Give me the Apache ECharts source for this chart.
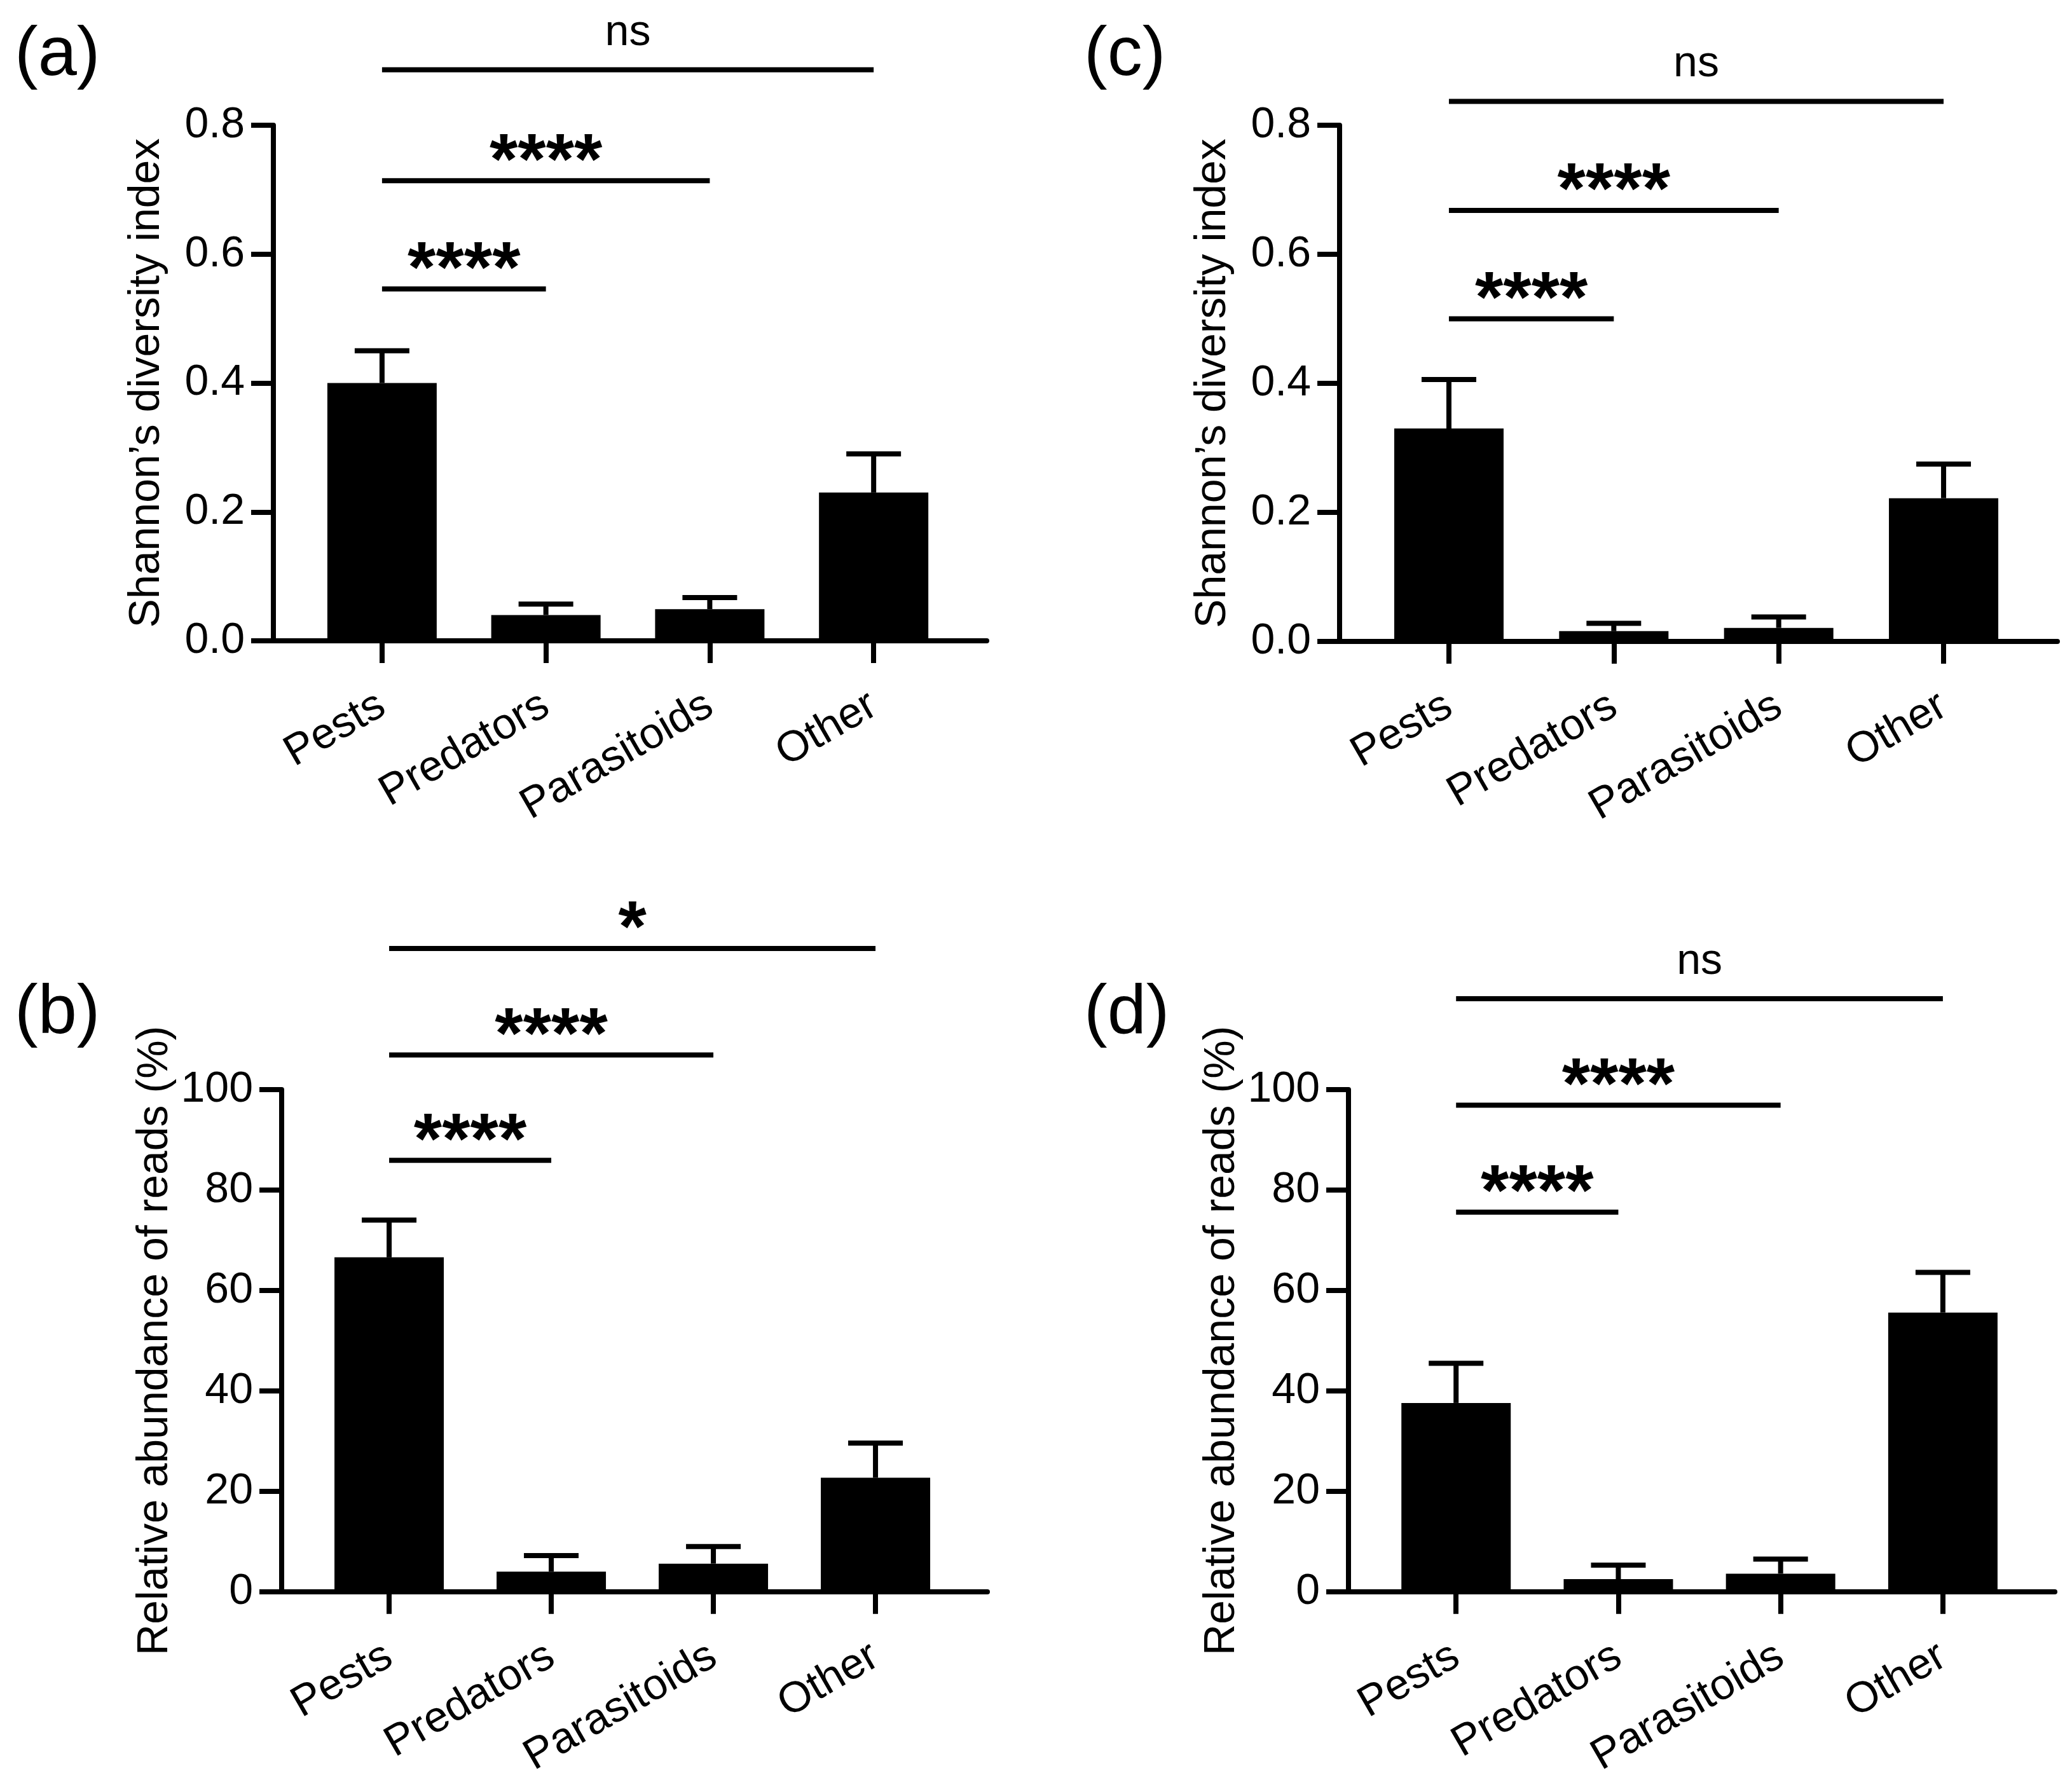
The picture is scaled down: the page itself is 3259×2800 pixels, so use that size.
<!DOCTYPE html>
<html>
<head>
<meta charset="utf-8">
<script src="https://cdn.jsdelivr.net/npm/echarts@6/dist/echarts.min.js"></script>
<style>
html, body { margin: 0; padding: 0; background: #fff; }
#chart { width: 3259px; height: 2800px; }
</style>
</head>
<body>
<div id="chart"></div>
<script>
var categories = ['Pests', 'Predators', 'Parasitoids', 'Other'];

// (a) Shannon, panel a
var shannonA = [0.40, 0.04, 0.049, 0.23];
var shannonAErr = [0.05, 0.017, 0.018, 0.06];
// (c) Shannon, panel c
var shannonC = [0.33, 0.016, 0.021, 0.222];
var shannonCErr = [0.076, 0.012, 0.017, 0.053];
// (b) relative abundance, panel b
var readsB = [66.6, 4.0, 5.6, 22.7];
var readsBErr = [7.4, 3.2, 3.4, 6.9];
// (d) relative abundance, panel d
var readsD = [37.6, 2.5, 3.6, 55.6];
var readsDErr = [7.9, 2.8, 2.9, 8.0];

// significance brackets: [from, to, height, label]
var sigA = [[0, 1, 0.546, '****'], [0, 2, 0.714, '****'], [0, 3, 0.886, 'ns']];
var sigB = [[0, 1, 85.9, '****'], [0, 2, 106.9, '****'], [0, 3, 128.1, '*']];
var sigC = [[0, 1, 0.50, '****'], [0, 2, 0.668, '****'], [0, 3, 0.837, 'ns']];
var sigD = [[0, 1, 75.6, '****'], [0, 2, 96.9, '****'], [0, 3, 118.1, 'ns']];

var FONT = '"Liberation Sans", Arial, sans-serif';
var LW = 8;

var panels = [
    { grid: { left: 430, top: 197, width: 1122, height: 811 }, means: shannonA, errs: shannonAErr, sig: sigA,
      max: 0.8, interval: 0.2, digits: 1, name: 'Shannon\u2019s diversity index' },
    { grid: { left: 443, top: 1714, width: 1110, height: 802 }, means: readsB, errs: readsBErr, sig: sigB,
      max: 100, interval: 20, digits: 0, name: 'Relative abundance of reads (%)' },
    { grid: { left: 2107, top: 197, width: 1129, height: 812 }, means: shannonC, errs: shannonCErr, sig: sigC,
      max: 0.8, interval: 0.2, digits: 1, name: 'Shannon\u2019s diversity index' },
    { grid: { left: 2121, top: 1714, width: 1111, height: 802 }, means: readsD, errs: readsDErr, sig: sigD,
      max: 100, interval: 20, digits: 0, name: 'Relative abundance of reads (%)' }
];

var grids = [], xAxes = [], yAxes = [], series = [];

panels.forEach(function (p, k) {
    grids.push(p.grid);
    xAxes.push({
        type: 'value', gridIndex: k, min: -0.663, max: 3.69,
        axisLine: { show: true, onZero: false, lineStyle: { color: '#000', width: LW } },
        axisTick: { show: true, length: 35, customValues: [0, 1, 2, 3], lineStyle: { color: '#000', width: LW } },
        axisLabel: {
            customValues: [0, 1, 2, 3], rotate: 30, margin: 97, fontSize: 68, color: '#000', fontFamily: FONT,
            formatter: function (v) { return categories[Math.round(v)]; }
        },
        splitLine: { show: false }
    });
    yAxes.push({
        type: 'value', gridIndex: k, min: 0, max: p.max, interval: p.interval,
        name: p.name, nameLocation: 'middle', nameGap: 165,
        nameTextStyle: { fontSize: 68, color: '#000', fontFamily: FONT },
        axisLine: { show: true, onZero: false, lineStyle: { color: '#000', width: LW } },
        axisTick: { show: true, length: 35, lineStyle: { color: '#000', width: LW } },
        axisLabel: {
            margin: 45, fontSize: 68, color: '#000', fontFamily: FONT,
            formatter: function (v) { return v.toFixed(p.digits); }
        },
        splitLine: { show: false }
    });

    // bars
    series.push({
        type: 'bar', xAxisIndex: k, yAxisIndex: k, barWidth: 172,
        itemStyle: { color: '#000' },
        data: p.means.map(function (m, i) { return [i, m]; }),
        z: 2
    });

    // error bars (upper only)
    series.push({
        type: 'custom', xAxisIndex: k, yAxisIndex: k, z: 3,
        data: p.means.map(function (m, i) { return [i, m, m + p.errs[i]]; }),
        renderItem: function (params, api) {
            var base = api.coord([api.value(0), api.value(1)]);
            var top = api.coord([api.value(0), api.value(2)]);
            var half = 43;
            return {
                type: 'group',
                children: [
                    { type: 'line', shape: { x1: base[0], y1: base[1], x2: top[0], y2: top[1] },
                      style: { stroke: '#000', lineWidth: LW } },
                    { type: 'line', shape: { x1: top[0] - half, y1: top[1], x2: top[0] + half, y2: top[1] },
                      style: { stroke: '#000', lineWidth: LW } }
                ]
            };
        }
    });

    // significance brackets
    series.push({
        type: 'custom', xAxisIndex: k, yAxisIndex: k, z: 4, clip: false,
        data: p.sig.map(function (s) { return [s[0], s[1], s[2]]; }),
        renderItem: function (params, api) {
            var s = p.sig[params.dataIndex];
            var a = api.coord([api.value(0), api.value(2)]);
            var b = api.coord([api.value(1), api.value(2)]);
            var isStar = s[3] !== 'ns';
            return {
                type: 'group',
                children: [
                    { type: 'line', shape: { x1: a[0], y1: a[1], x2: b[0], y2: b[1] },
                      style: { stroke: '#000', lineWidth: LW } },
                    { type: 'text', x: (a[0] + b[0]) / 2, y: a[1] - (isStar ? 27 : 58),
                      style: {
                          text: s[3], align: 'center', verticalAlign: 'middle', fill: '#000',
                          fontFamily: FONT, fontSize: isStar ? 114 : 68, fontWeight: isStar ? 'bold' : 'normal'
                      } }
                ]
            };
        }
    });
});

var chart = echarts.init(document.getElementById('chart'));
chart.setOption({
    backgroundColor: '#fff',
    animation: false,
    title: [
        { text: '(a)', left: 18, top: 28 },
        { text: '(b)', left: 18, top: 1535 },
        { text: '(c)', left: 1700, top: 28 },
        { text: '(d)', left: 1700, top: 1535 }
    ].map(function (t) {
        t.textStyle = { fontSize: 110, fontWeight: 'normal', color: '#000', fontFamily: FONT };
        return t;
    }),
    grid: grids,
    xAxis: xAxes,
    yAxis: yAxes,
    series: series
});
</script>
</body>
</html>
